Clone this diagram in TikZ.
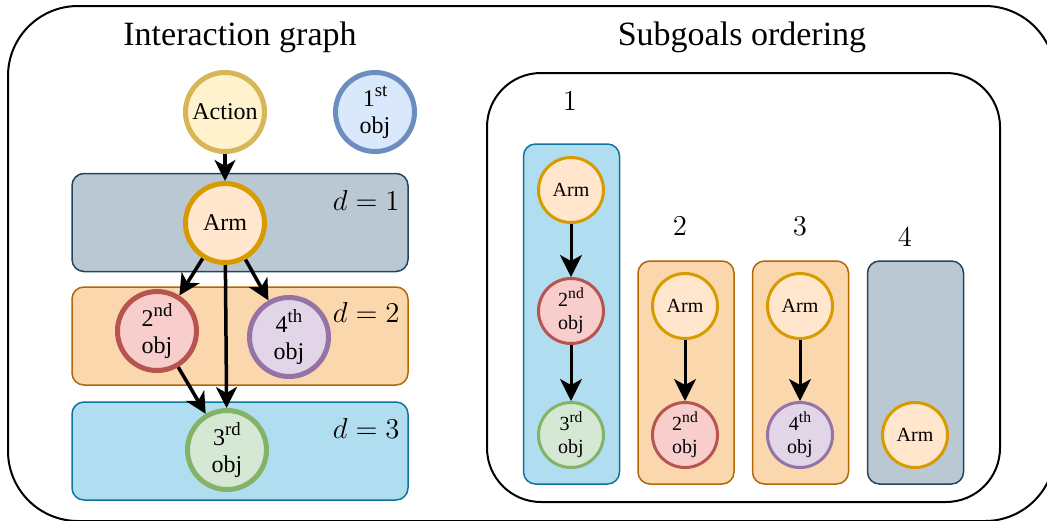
\documentclass[tikz,border=0pt]{standalone}
\usepackage{fontspec}
\setmainfont{Liberation Serif}
\usetikzlibrary{arrows.meta}

\definecolor{actfill}{HTML}{FFF2CC}
\definecolor{actline}{HTML}{D6B656}
\definecolor{armfill}{HTML}{FFE6CC}
\definecolor{armline}{HTML}{D79B00}
\definecolor{firstfill}{HTML}{DAE8FC}
\definecolor{firstline}{HTML}{6C8EBF}
\definecolor{secondfill}{HTML}{F8CECC}
\definecolor{secondline}{HTML}{B85450}
\definecolor{thirdfill}{HTML}{D5E8D4}
\definecolor{thirdline}{HTML}{82B366}
\definecolor{fourthfill}{HTML}{E1D5E7}
\definecolor{fourthline}{HTML}{9673A6}
\definecolor{grayfill}{HTML}{BAC8D3}
\definecolor{grayline}{HTML}{23445D}
\definecolor{orangefill}{HTML}{FAD7AC}
\definecolor{orangeline}{HTML}{B46504}
\definecolor{bluefill}{HTML}{B1DDF0}
\definecolor{blueline}{HTML}{10739E}

\makeatletter
\newcommand{\ord}[1]{\raisebox{0.42em}{\fontsize{\strip@pt\dimexpr0.78\dimexpr\f@size pt\relax\relax}{1}\selectfont #1}}
\makeatother

\begin{document}
\begin{tikzpicture}
    \def\dx{0.5pt}
    \def\dy{-0.5pt}

    \useasboundingbox (0*\dx,0*\dy) rectangle (1047*\dx,520*\dy);

    \tikzstyle{panel}=[draw=black,line width=1pt]
    \tikzstyle{title}=[font=\fontsize{17}{20}\selectfont]
    \tikzstyle{num}=[font=\fontsize{14}{16}\selectfont]
    \tikzstyle{depth}=[font=\fontsize{13.5}{16}\selectfont,anchor=east,inner sep=0pt]
    \tikzstyle{level}=[rectangle,rounded corners=6pt,line width=0.75pt,minimum width=168pt,minimum height=49pt]
    \tikzstyle{col}=[rectangle,rounded corners=6pt,line width=0.75pt,minimum width=48pt]
    \tikzstyle{big}=[circle,line width=2.5pt,minimum size=39.5pt,inner sep=0pt,align=center,font=\fontsize{12}{13.5}\selectfont]
    \tikzstyle{small}=[circle,line width=1.5pt,minimum size=32.5pt,inner sep=0pt,align=center,font=\fontsize{10}{11.5}\selectfont]
    \tikzstyle{act}=[fill=actfill,draw=actline]
    \tikzstyle{arm}=[fill=armfill,draw=armline]
    \tikzstyle{first}=[fill=firstfill,draw=firstline]
    \tikzstyle{second}=[fill=secondfill,draw=secondline]
    \tikzstyle{third}=[fill=thirdfill,draw=thirdline]
    \tikzstyle{fourth}=[fill=fourthfill,draw=fourthline]

    % frames
    \draw [panel,rounded corners=35pt] (8*\dx,6*\dy) rectangle (1055*\dx,521*\dy);
    \draw [panel,rounded corners=27pt] (487*\dx,73*\dy) rectangle (1000*\dx,502*\dy);

    \node[title] (tig) at (240*\dx,37*\dy) {Interaction graph};
    \node[title] (tso) at (742*\dx,37*\dy) {Subgoals ordering};

    % interaction graph
    \node[level,fill=grayfill,draw=grayline]     (lv1) at (240*\dx,222.5*\dy) {};
    \node[level,fill=orangefill,draw=orangeline] (lv2) at (240*\dx,336*\dy) {};
    \node[level,fill=bluefill,draw=blueline]     (lv3) at (240*\dx,451*\dy) {};
    \node[depth] (d1) at (400*\dx,200*\dy) {$d=1$};
    \node[depth] (d2) at (400*\dx,312*\dy) {$d=2$};
    \node[depth] (d3) at (400*\dx,428*\dy) {$d=3$};

    \node[big,act]    (action) at (225*\dx,112*\dy) {Action};
    \node[big,first]  (obj1)   at (375*\dx,112*\dy) {1\ord{st}\\obj};
    \node[big,arm]    (arm)    at (225*\dx,223*\dy) {Arm};
    \node[big,second] (obj2)   at (157*\dx,331*\dy) {2\ord{nd}\\obj};
    \node[big,fourth] (obj4)   at (289*\dx,337*\dy) {4\ord{th}\\obj};
    \node[big,third]  (obj3)   at (227*\dx,450*\dy) {3\ord{rd}\\obj};

    % subgoals
    \node[num] (n1) at (570*\dx,101*\dy) {$1$};
    \node[num] (n2) at (680*\dx,226*\dy) {$2$};
    \node[num] (n3) at (800*\dx,226*\dy) {$3$};
    \node[num] (n4) at (905*\dx,237*\dy) {$4$};

    \node[col,minimum height=170pt,fill=bluefill,draw=blueline]     (c1) at (571.5*\dx,314*\dy) {};
    \node[col,minimum height=111.5pt,fill=orangefill,draw=orangeline] (c2) at (686*\dx,372.5*\dy) {};
    \node[col,minimum height=111.5pt,fill=orangefill,draw=orangeline] (c3) at (800.5*\dx,372.5*\dy) {};
    \node[col,minimum height=111.5pt,fill=grayfill,draw=grayline]     (c4) at (915.5*\dx,372.5*\dy) {};

    \node[small,arm]    (armA) at (571*\dx,190*\dy) {Arm};
    \node[small,second] (secA) at (571*\dx,311*\dy) {2\ord{nd}\\obj};
    \node[small,third]  (thiA) at (571*\dx,435*\dy) {3\ord{rd}\\obj};
    \node[small,arm]    (armB) at (685*\dx,306*\dy) {Arm};
    \node[small,second] (secB) at (685*\dx,435*\dy) {2\ord{nd}\\obj};
    \node[small,arm]    (armC) at (800*\dx,306*\dy) {Arm};
    \node[small,fourth] (fouC) at (800*\dx,435*\dy) {4\ord{th}\\obj};
    \node[small,arm]    (armD) at (915*\dx,435*\dy) {Arm};

    \tikzstyle{fwd} = [draw=black,line width=1.75pt,-{Stealth[length=10.5pt,width=10.5pt,inset=3pt]}]
    \tikzstyle{sub} = [draw=black,line width=1.5pt,-{Stealth[length=11pt,width=11pt,inset=3pt]}]

          \draw [fwd] (action) -- (arm);
          \draw [fwd] (arm) -- (obj2);
          \draw [fwd] (arm) -- (obj4);
          \draw [fwd] (arm) -- (obj3);
          \draw [fwd] (obj2) -- (obj3);

          \draw [sub] (armA) -- (secA);
          \draw [sub] (secA) -- (thiA);
          \draw [sub] (armB) -- (secB);
          \draw [sub] (armC) -- (fouC);

  \end{tikzpicture}
\end{document}
